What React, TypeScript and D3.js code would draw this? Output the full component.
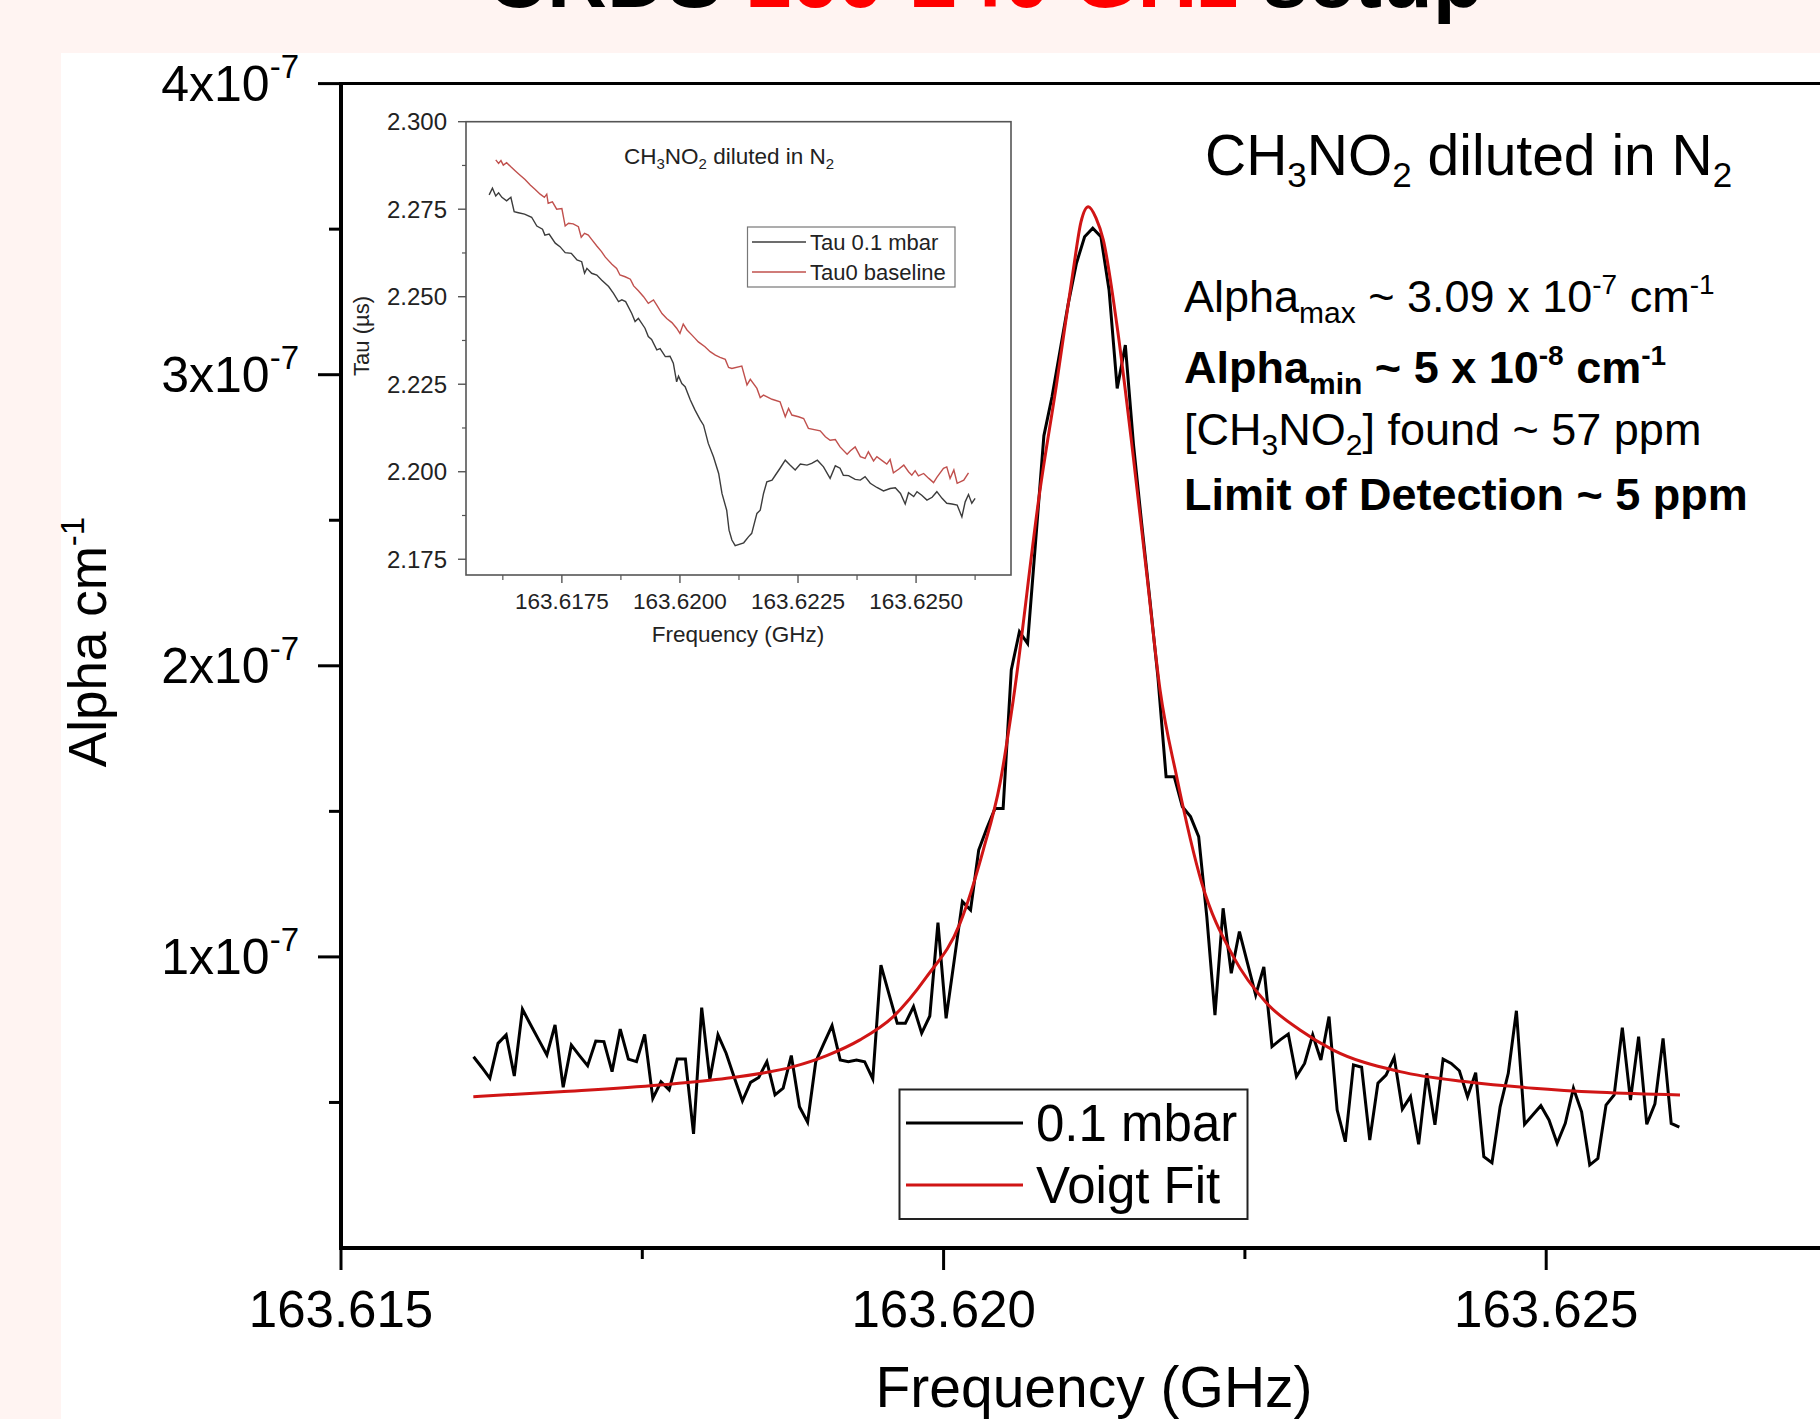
import React, { useEffect } from "react";
import * as d3 from "d3";

const W = 1820;
const H = 1419;
const FONT = "'Liberation Sans', Arial, Helvetica, sans-serif";

// main spectrum, 0.1 mbar: alpha in 1e-8 cm^-1, sampled evenly from FREQ_START (GHz)
const FREQ_START = 163.6161;
const FREQ_STEP = 0.0000676;
const alpha = [
  6.57, 6.21, 5.83, 7.03, 7.32, 5.91, 8.2, 7.67, 7.15, 6.63,
  7.66, 5.52, 6.97, 6.61, 6.26, 7.11, 7.09, 6.06, 7.52, 6.49,
  6.4, 7.34, 5.14, 5.71, 5.43, 6.49, 6.49, 3.92, 8.26, 5.79,
  7.32, 6.69, 5.86, 5.05, 5.69, 5.86, 6.4, 5.26, 5.49, 6.61,
  4.85, 4.32, 6.4, 7.03, 7.64, 6.46, 6.4, 6.46, 6.4, 5.81,
  9.72, 8.71, 7.72, 7.72, 8.29, 7.38, 7.97, 11.18, 7.89, 9.89,
  11.9, 11.61, 13.67, 14.42, 15.1, 15.1, 19.86, 21.17, 20.77, 24.32,
  27.9, 29.24, 30.85, 32.45, 33.83, 34.74, 35.03, 34.74, 32.91, 29.53,
  31.02, 27.6, 24.9, 22.3, 19.6, 16.19, 16.19, 15.16, 14.82, 14.13,
  11.38, 8.0, 11.67, 9.44, 10.87, 9.78, 8.69, 9.66, 6.92, 7.15,
  7.35, 5.89, 6.34, 7.32, 6.46, 7.95, 4.74, 3.65, 6.29, 6.21,
  3.71, 5.66, 5.94, 6.55, 4.77, 5.2, 3.56, 6.0, 4.23, 6.49,
  6.34, 6.09, 5.2, 6.02, 3.14, 2.93, 4.85, 6.0, 8.15, 4.25,
  4.57, 4.89, 4.4, 3.6, 4.28, 5.49, 4.68, 2.85, 3.08, 4.91,
  5.26, 7.57, 5.08, 7.26, 4.25, 4.95, 7.2, 4.28, 4.15,
];

// Voigt fit (1e-8 cm^-1)
const fitFreq = [
  163.616098, 163.616817, 163.617647, 163.6182, 163.618753, 163.61903, 163.619306,
  163.619583, 163.61986, 163.620136, 163.620329, 163.620468, 163.620578, 163.6208,
  163.620938, 163.621076, 163.62114, 163.621201, 163.621265, 163.621325, 163.621436,
  163.621574, 163.621685, 163.621796, 163.621934, 163.622142, 163.622404, 163.622681,
  163.622957, 163.623233, 163.623787, 163.62434, 163.624893, 163.625446, 163.62611,
];
const fitAlpha = [
  5.2, 5.37, 5.6, 5.83, 6.23, 6.61, 7.15,
  7.95, 9.32, 11.15, 13.67, 15.96, 18.83, 26.04,
  29.7, 33.6, 35.25, 35.77, 35.38, 34.63, 31.77,
  27.18, 23.18, 19.17, 16.19, 12.54, 10.01, 8.41,
  7.49, 6.8, 6.06, 5.71, 5.49, 5.35, 5.26,
];

const xMajor = [163.615, 163.62, 163.625];
const xMinor = [163.6175, 163.6225, 163.6275];
const yMajor = [1, 2, 3, 4]; // x 1e-7
const yMinor = [0.5, 1.5, 2.5, 3.5];

// inset: Tau (µs)
const tauFreq = [
  163.61596, 163.61603, 163.6161, 163.61616, 163.61623, 163.61633, 163.61642, 163.61649,
  163.61658, 163.61671, 163.61686, 163.61697, 163.61709, 163.61714, 163.61723, 163.61736,
  163.61746, 163.61757, 163.6177, 163.61782, 163.61792, 163.61798, 163.61803, 163.61813,
  163.61824, 163.61834, 163.61849, 163.61859, 163.6187, 163.61877, 163.61885, 163.61898,
  163.61905, 163.61912, 163.61926, 163.61933, 163.6194, 163.61951, 163.61958, 163.61969,
  163.61979, 163.61986, 163.61993, 163.61997, 163.62004, 163.62011, 163.62022, 163.62032,
  163.62043, 163.6205, 163.6206, 163.62071, 163.62082, 163.62089, 163.62099, 163.62104,
  163.6211, 163.62117, 163.62135, 163.62145, 163.62152, 163.62163, 163.6217, 163.62177,
  163.62184, 163.62195, 163.62202, 163.62212, 163.62223, 163.62233, 163.62244, 163.62255,
  163.62269, 163.62279, 163.62291, 163.62304, 163.62318, 163.62329, 163.62339, 163.62346,
  163.62357, 163.62371, 163.62382, 163.62392, 163.62403, 163.62417, 163.62431, 163.62445,
  163.62456, 163.62467, 163.62477, 163.62484, 163.62495, 163.62502, 163.62512, 163.62523,
  163.62534, 163.62544, 163.62555, 163.62565, 163.62576, 163.62587, 163.62597, 163.62604,
  163.62611, 163.62618, 163.62625,
];
const tau = [
  2.2791, 2.281, 2.2788, 2.2797, 2.2784, 2.2774, 2.2784, 2.2743,
  2.274, 2.2736, 2.2727, 2.2702, 2.2693, 2.2676, 2.2679, 2.2653,
  2.2643, 2.2626, 2.2624, 2.2605, 2.26, 2.2567, 2.2581, 2.2567,
  2.2562, 2.2548, 2.2529, 2.251, 2.2486, 2.2491, 2.2486, 2.2452,
  2.2429, 2.2438, 2.241, 2.2386, 2.2378, 2.2348, 2.2352, 2.2329,
  2.233, 2.231, 2.2257, 2.2273, 2.2252, 2.2243, 2.2205, 2.2176,
  2.2148, 2.2133, 2.2081, 2.2043, 2.1995, 2.1938, 2.189, 2.1833,
  2.1805, 2.1789, 2.1797, 2.1814, 2.1824, 2.1881, 2.189, 2.1938,
  2.1971, 2.1976, 2.199, 2.201, 2.2033, 2.2019, 2.2005, 2.2022,
  2.2019, 2.2024, 2.2033, 2.2014, 2.1981, 2.2017, 2.201, 2.199,
  2.1989, 2.1978, 2.1976, 2.1986, 2.1967, 2.1955, 2.1945, 2.1952,
  2.1954, 2.1938, 2.1908, 2.194, 2.1929, 2.1943, 2.1933, 2.1919,
  2.1927, 2.1943, 2.1924, 2.191, 2.1908, 2.1905, 2.1871, 2.1914,
  2.1935, 2.191, 2.1924,
];

// inset: Tau0 baseline
const tau0Freq = [
  163.6161, 163.61616, 163.61621, 163.61626, 163.61633, 163.61642, 163.61651, 163.61661,
  163.61672, 163.61683, 163.61693, 163.61704, 163.61713, 163.61718, 163.61721, 163.6173,
  163.61739, 163.6175, 163.61757, 163.61764, 163.61774, 163.61785, 163.61791, 163.61798,
  163.61806, 163.61813, 163.61824, 163.61834, 163.61842, 163.61856, 163.61866, 163.61873,
  163.61884, 163.61895, 163.61902, 163.61912, 163.61923, 163.61933, 163.61944, 163.61951,
  163.61962, 163.61972, 163.61983, 163.61993, 163.62, 163.62007, 163.62015, 163.62025,
  163.62032, 163.62039, 163.62053, 163.62064, 163.62075, 163.62085, 163.62096, 163.62103,
  163.6211, 163.62131, 163.62142, 163.62149, 163.62163, 163.6217, 163.62177, 163.62195,
  163.62212, 163.62223, 163.6223, 163.62237, 163.62251, 163.62262, 163.62272, 163.62297,
  163.62308, 163.62318, 163.62329, 163.62339, 163.62354, 163.62361, 163.62371, 163.62382,
  163.62392, 163.62399, 163.6241, 163.62417, 163.62431, 163.62438, 163.62445, 163.62452,
  163.62463, 163.62474, 163.62484, 163.62491, 163.62498, 163.62505, 163.62516, 163.62527,
  163.62537, 163.62544, 163.62558, 163.62565, 163.62572, 163.6258, 163.62587, 163.62601,
  163.62611,
];
const tau0 = [
  2.2891, 2.2881, 2.2889, 2.2876, 2.2883, 2.2871, 2.286, 2.2848,
  2.2835, 2.2819, 2.2807, 2.2793, 2.2784, 2.2793, 2.2767, 2.2771,
  2.275, 2.2752, 2.2702, 2.271, 2.2708, 2.27, 2.267, 2.2681,
  2.2676, 2.2664, 2.2645, 2.2629, 2.2613, 2.2593, 2.2581, 2.2562,
  2.2557, 2.255, 2.2531, 2.2517, 2.25, 2.2481, 2.2491, 2.2476,
  2.2452, 2.2438, 2.2426, 2.241, 2.2395, 2.2422, 2.2405, 2.2391,
  2.2381, 2.2371, 2.2357, 2.2343, 2.2333, 2.2327, 2.2321, 2.2298,
  2.2295, 2.2302, 2.2248, 2.2264, 2.2238, 2.2212, 2.2219, 2.2207,
  2.22, 2.2157, 2.2181, 2.2162, 2.2157, 2.2152, 2.2124, 2.2117,
  2.21, 2.209, 2.2092, 2.2071, 2.205, 2.206, 2.2071, 2.2043,
  2.2038, 2.2057, 2.2031, 2.2043, 2.2029, 2.2022, 2.2035, 2.1997,
  2.2007, 2.2019, 2.2, 2.199, 2.2003, 2.1988, 2.1995, 2.1981,
  2.1969, 2.1984, 2.201, 2.2014, 2.1981, 2.2005, 2.1967, 2.1976,
  2.1997,
];

const insetXMajor = [163.6175, 163.62, 163.6225, 163.625];
const insetXMinor = [163.61625, 163.61875, 163.62125, 163.62375, 163.62625];
const insetYMajor = [2.175, 2.2, 2.225, 2.25, 2.275, 2.3];
const insetYMinor = [2.1875, 2.2125, 2.2375, 2.2625, 2.2875];

const BLACK = "#000";
const RED = "#d01515";
const INSET_BLACK = "#3c3c3c";
const INSET_RED = "#c0504d";

function Inset() {
  const ix = d3.scaleLinear().domain([163.61547, 163.62701]).range([466, 1011]);
  const iy = d3.scaleLinear().domain([2.1705, 2.3]).range([575, 121.7]);
  const ln = d3.line<[number, number]>().x((d) => ix(d[0])).y((d) => iy(d[1]));
  const tauPts = tauFreq.map((f, i) => [f, tau[i]] as [number, number]);
  const tau0Pts = tau0Freq.map((f, i) => [f, tau0[i]] as [number, number]);
  const [x0, x1] = ix.range();
  const [y0, y1] = iy.range();

  return (
    <g fontFamily={FONT} fill="#222">
      <rect x={x0} y={y1} width={x1 - x0} height={y0 - y1} fill="#fff" stroke="#555" strokeWidth={1.6} />
      {insetYMajor.map((t) => (
        <g key={"iy" + t}>
          <line x1={x0 - 8} x2={x0} y1={iy(t)} y2={iy(t)} stroke="#555" strokeWidth={1.4} />
          <text x={447} y={iy(t) + 8.5} fontSize={24} textAnchor="end">{t.toFixed(3)}</text>
        </g>
      ))}
      {insetYMinor.map((t) => (
        <line key={"iym" + t} x1={x0 - 4} x2={x0} y1={iy(t)} y2={iy(t)} stroke="#555" strokeWidth={1.2} />
      ))}
      {insetXMajor.map((t) => (
        <g key={"ix" + t}>
          <line x1={ix(t)} x2={ix(t)} y1={y0} y2={y0 + 8} stroke="#555" strokeWidth={1.4} />
          <text x={ix(t)} y={609} fontSize={22.5} textAnchor="middle">{t.toFixed(4)}</text>
        </g>
      ))}
      {insetXMinor.map((t) => (
        <line key={"ixm" + t} x1={ix(t)} x2={ix(t)} y1={y0} y2={y0 + 5} stroke="#555" strokeWidth={1.2} />
      ))}
      <text x={738} y={642} fontSize={22.5} textAnchor="middle">Frequency (GHz)</text>
      <text transform="translate(369,336) rotate(-90)" fontSize={22} textAnchor="middle">Tau (µs)</text>

      <path d={ln(tau0Pts) || ""} fill="none" stroke={INSET_RED} strokeWidth={1.4} />
      <path d={ln(tauPts) || ""} fill="none" stroke={INSET_BLACK} strokeWidth={1.4} />

      <text x={624} y={164} fontSize={22.5}>
        CH<tspan dy={5} fontSize={15}>3</tspan>
        <tspan dy={-5}>NO</tspan>
        <tspan dy={5} fontSize={15}>2</tspan>
        <tspan dy={-5}> diluted in N</tspan>
        <tspan dy={5} fontSize={15}>2</tspan>
      </text>

      <rect x={747.5} y={227} width={207.5} height={60} fill="#fff" stroke="#777" strokeWidth={1.2} />
      <line x1={752} x2={806} y1={242} y2={242} stroke={INSET_BLACK} strokeWidth={1.4} />
      <line x1={752} x2={806} y1={272} y2={272} stroke={INSET_RED} strokeWidth={1.4} />
      <text x={810} y={250} fontSize={22}>Tau 0.1 mbar</text>
      <text x={810} y={280} fontSize={22}>Tau0 baseline</text>
    </g>
  );
}

export default function App() {
  useEffect(() => {
    document.body.style.margin = "0";
    document.body.style.overflow = "hidden";
  }, []);

  const x = d3.scaleLinear().domain([163.615, 163.6275]).range([341, 1847.5]);
  const y = d3.scaleLinear().domain([0, 4e-7]).range([1248, 83.6]);
  const [left] = x.range();
  const [bottom, top] = y.range();

  const dataPts = alpha.map((a, i) => [FREQ_START + i * FREQ_STEP, a * 1e-8] as [number, number]);
  const fitPts = fitFreq.map((f, i) => [f, fitAlpha[i] * 1e-8] as [number, number]);
  const dataLine = d3.line<[number, number]>().x((d) => x(d[0])).y((d) => y(d[1]));
  const fitLine = d3
    .line<[number, number]>()
    .x((d) => x(d[0]))
    .y((d) => y(d[1]))
    .curve(d3.curveMonotoneX);

  return (
    <svg
      width={W}
      height={H}
      viewBox={`0 0 ${W} ${H}`}
      style={{ position: "absolute", left: 0, top: 0, display: "block" }}
      fontFamily={FONT}
    >
      <rect x={0} y={0} width={W} height={H} fill="#fff4f2" />
      <rect x={61} y={53} width={W - 61} height={H - 53} fill="#fff" />

      {/* page title, cut off at the top as in the slide */}
      <text x={487} y={7} fontSize={83} fontWeight="bold" fill="#000">
        CRDS <tspan fill="#ff0000">160-240 GHz</tspan> setup
      </text>

      {/* frame */}
      <line x1={left} x2={W} y1={top} y2={top} stroke={BLACK} strokeWidth={3} />
      <line x1={left} x2={left} y1={top - 1.5} y2={bottom + 2} stroke={BLACK} strokeWidth={4} />
      <line x1={left - 2} x2={W} y1={bottom} y2={bottom} stroke={BLACK} strokeWidth={4} />

      {/* y axis */}
      {yMajor.map((t) => (
        <g key={"y" + t}>
          <line x1={left - 23} x2={left} y1={y(t * 1e-7)} y2={y(t * 1e-7)} stroke={BLACK} strokeWidth={3} />
          <text x={299} y={y(t * 1e-7) + 17} fontSize={50} textAnchor="end" fill="#000">
            {t}x10<tspan dy={-23} fontSize={33}>-7</tspan>
          </text>
        </g>
      ))}
      {yMinor.map((t) => (
        <line key={"ym" + t} x1={left - 12} x2={left} y1={y(t * 1e-7)} y2={y(t * 1e-7)} stroke={BLACK} strokeWidth={3} />
      ))}
      <text transform="translate(106,642) rotate(-90)" fontSize={53} textAnchor="middle" fill="#000">
        Alpha cm<tspan dy={-22} fontSize={33}>-1</tspan>
      </text>

      {/* x axis */}
      {xMajor.map((t) => (
        <g key={"x" + t}>
          <line x1={x(t)} x2={x(t)} y1={bottom} y2={bottom + 22} stroke={BLACK} strokeWidth={3} />
          <text x={x(t)} y={1327} fontSize={51} textAnchor="middle" fill="#000">{t.toFixed(3)}</text>
        </g>
      ))}
      {xMinor.map((t) => (
        <line key={"xm" + t} x1={x(t)} x2={x(t)} y1={bottom} y2={bottom + 11} stroke={BLACK} strokeWidth={3} />
      ))}
      <text x={1094} y={1407} fontSize={57} textAnchor="middle" fill="#000">Frequency (GHz)</text>

      {/* data */}
      <path d={dataLine(dataPts) || ""} fill="none" stroke={BLACK} strokeWidth={3} />
      <path d={fitLine(fitPts) || ""} fill="none" stroke={RED} strokeWidth={3} />

      {/* legend */}
      <rect x={899.5} y={1089.5} width={348} height={129.5} fill="#fff" stroke="#222" strokeWidth={2} />
      <line x1={906} x2={1023} y1={1123} y2={1123} stroke={BLACK} strokeWidth={3} />
      <line x1={906} x2={1023} y1={1185} y2={1185} stroke={RED} strokeWidth={3} />
      <text x={1036} y={1141} fontSize={51} fill="#000">0.1 mbar</text>
      <text x={1036} y={1203} fontSize={51} fill="#000">Voigt Fit</text>

      {/* annotation */}
      <g fill="#000">
        <text x={1205} y={175} fontSize={57}>
          CH<tspan dy={12} fontSize={35}>3</tspan>
          <tspan dy={-12}>NO</tspan>
          <tspan dy={12} fontSize={35}>2</tspan>
          <tspan dy={-12}> diluted in N</tspan>
          <tspan dy={12} fontSize={35}>2</tspan>
        </text>
        <text x={1184} y={312} fontSize={45}>
          Alpha<tspan dy={11} fontSize={30}>max</tspan>
          <tspan dy={-11}> ~ 3.09 x 10</tspan>
          <tspan dy={-18} fontSize={28}>-7</tspan>
          <tspan dy={18}> cm</tspan>
          <tspan dy={-18} fontSize={28}>-1</tspan>
        </text>
        <text x={1184} y={383} fontSize={45} fontWeight="bold">
          Alpha<tspan dy={11} fontSize={30}>min</tspan>
          <tspan dy={-11}> ~ 5 x 10</tspan>
          <tspan dy={-18} fontSize={28}>-8</tspan>
          <tspan dy={18}> cm</tspan>
          <tspan dy={-18} fontSize={28}>-1</tspan>
        </text>
        <text x={1184} y={445} fontSize={45}>
          [CH<tspan dy={10} fontSize={30}>3</tspan>
          <tspan dy={-10}>NO</tspan>
          <tspan dy={10} fontSize={30}>2</tspan>
          <tspan dy={-10}>] found ~ 57 ppm</tspan>
        </text>
        <text x={1184} y={510} fontSize={45} fontWeight="bold">
          Limit of Detection ~ 5 ppm
        </text>
      </g>

      <Inset />
    </svg>
  );
}
